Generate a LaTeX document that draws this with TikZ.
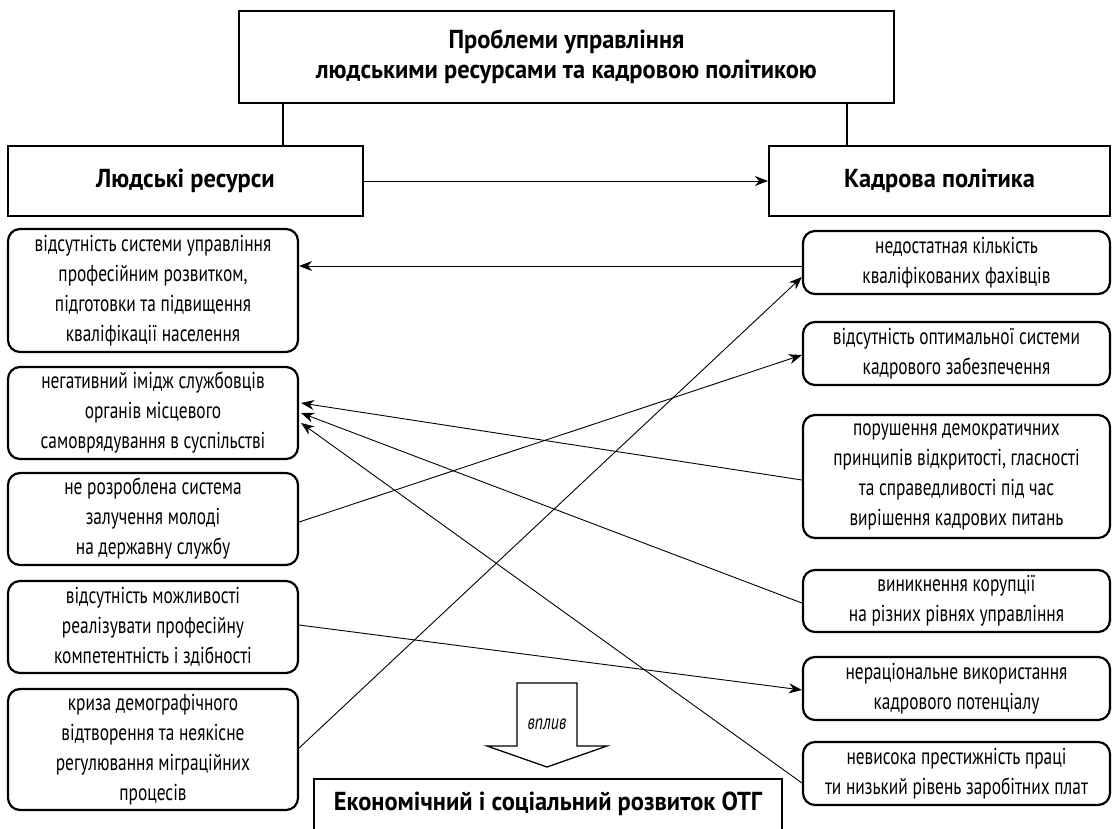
\documentclass[tikz,border=0pt]{standalone}
\usepackage{fontspec}
\setmainfont{PT Sans}[FakeStretch=0.755]
\newfontfamily\headfam{PT Sans}[FakeStretch=0.94]
\usetikzlibrary{arrows.meta}
\begin{document}
\begin{tikzpicture}[x=1pt,y=-1pt,
  every node/.style={font=\fontsize{23}{30}\selectfont, align=center, inner sep=0pt},
  sqbox/.style={draw, line width=2.2pt, font=\headfam\fontsize{26}{30}\selectfont\bfseries},
  rbox/.style={draw, line width=2.2pt, rounded corners=12pt},
  lcol/.style={rbox, minimum width=290pt},
  rcol/.style={rbox, minimum width=307pt},
  conn/.style={line width=0.9pt, -{Stealth[length=13pt,width=10pt]}},
  link/.style={line width=1.1pt},
  blockarrow/.style={line width=1.3pt, line join=miter}
]
\clip (0,0) rectangle (1113,829);
\fill[white] (0,0) rectangle (1113,829);

% top level
\node[sqbox, minimum width=655pt, minimum height=92pt] (top) at (566.5,57)
  {Проблеми управління\\людськими ресурсами та кадровою політикою};
\node[sqbox, minimum width=355pt, minimum height=70pt] (lm) at (185.5,181) {Людські ресурси};
\node[sqbox, minimum width=341pt, minimum height=70pt] (rm) at (939.5,181) {Кадрова політика};

% left column
\node[lcol, minimum height=123pt] (l1) at (153,290.5)
  {відсутність системи управління\\професійним розвитком,\\підготовки та підвищення\\кваліфікації населення};
\node[lcol, minimum height=92pt] (l2) at (153,413)
  {негативний імідж службовців\\органів місцевого\\самоврядування в суспільстві};
\node[lcol, minimum height=92pt] (l3) at (153,519)
  {не розроблена система\\залучення молоді\\на державну службу};
\node[lcol, minimum height=92pt] (l4) at (153,627)
  {відсутність можливості\\реалізувати професійну\\компетентність і здібності};
\node[lcol, minimum height=121pt] (l5) at (153,749.5)
  {криза демографічного\\відтворення та неякісне\\регулювання міграційних\\процесів};

% right column
\node[rcol, minimum height=63pt] (r1) at (956.5,262.5)
  {недостатная кількість\\кваліфікованих фахівців};
\node[rcol, minimum height=63pt] (r2) at (956.5,353.5)
  {відсутність оптимальної системи\\кадрового забезпечення};
\node[rcol, minimum height=123pt] (r3) at (956.5,476.5)
  {порушення демократичних\\принципів відкритості, гласності\\та справедливості під час\\вирішення кадрових питань};
\node[rcol, minimum height=62pt] (r4) at (956.5,601)
  {виникнення корупції\\на різних рівнях управління};
\node[rcol, minimum height=63pt] (r5) at (956.5,688.5)
  {нераціональне використання\\кадрового потенціалу};
\node[rcol, minimum height=63pt] (r6) at (956.5,773.5)
  {невисока престижність праці\\ти низький рівень заробітних плат};

% bottom box (cut by the page edge)
\node[sqbox, minimum width=468pt, minimum height=72pt, text depth=28pt, anchor=north] (otg) at (548,778)
  {Економічний і соціальний розвиток ОТГ};

% block arrow
\draw[blockarrow] (517,683) -- (577,683) -- (577,746) -- (607,746) -- (547,767)
  -- (487,746) -- (517,746) -- cycle;
\node[font=\fontsize{21}{24}\selectfont\itshape] (vplyv) at (547,724) {вплив};

% tree links
\draw[link] ([xshift=97.5pt]lm.north) -- ([xshift=97.5pt]lm.north |- top.south);
\draw[link] ([xshift=-92.5pt]rm.north) -- ([xshift=-92.5pt]rm.north |- top.south);
\draw[conn] (lm.east) -- (rm.west);

% connectors
\draw[conn] ([yshift=-3.5pt]r1.west) -- ([yshift=24.5pt]l1.east);
\draw[conn] ([yshift=-3pt]l3.east) -- ([yshift=-1.5pt]r2.west);
\draw[conn] ([yshift=1.5pt]l5.east) -- ([yshift=-14.5pt]r1.west);
\draw[conn] ([yshift=2pt]l4.east) -- ([yshift=-1.5pt]r5.west);
\draw[conn] ([yshift=-3.5pt]r3.west) -- ([xshift=2pt,yshift=10pt]l2.east);
\draw[conn] ([yshift=-2pt]r4.west) -- ([xshift=2pt]l2.east);
\draw[conn] ([yshift=-9.5pt]r6.west) -- ([xshift=2pt,yshift=-10pt]l2.east);
\end{tikzpicture}
\end{document}
